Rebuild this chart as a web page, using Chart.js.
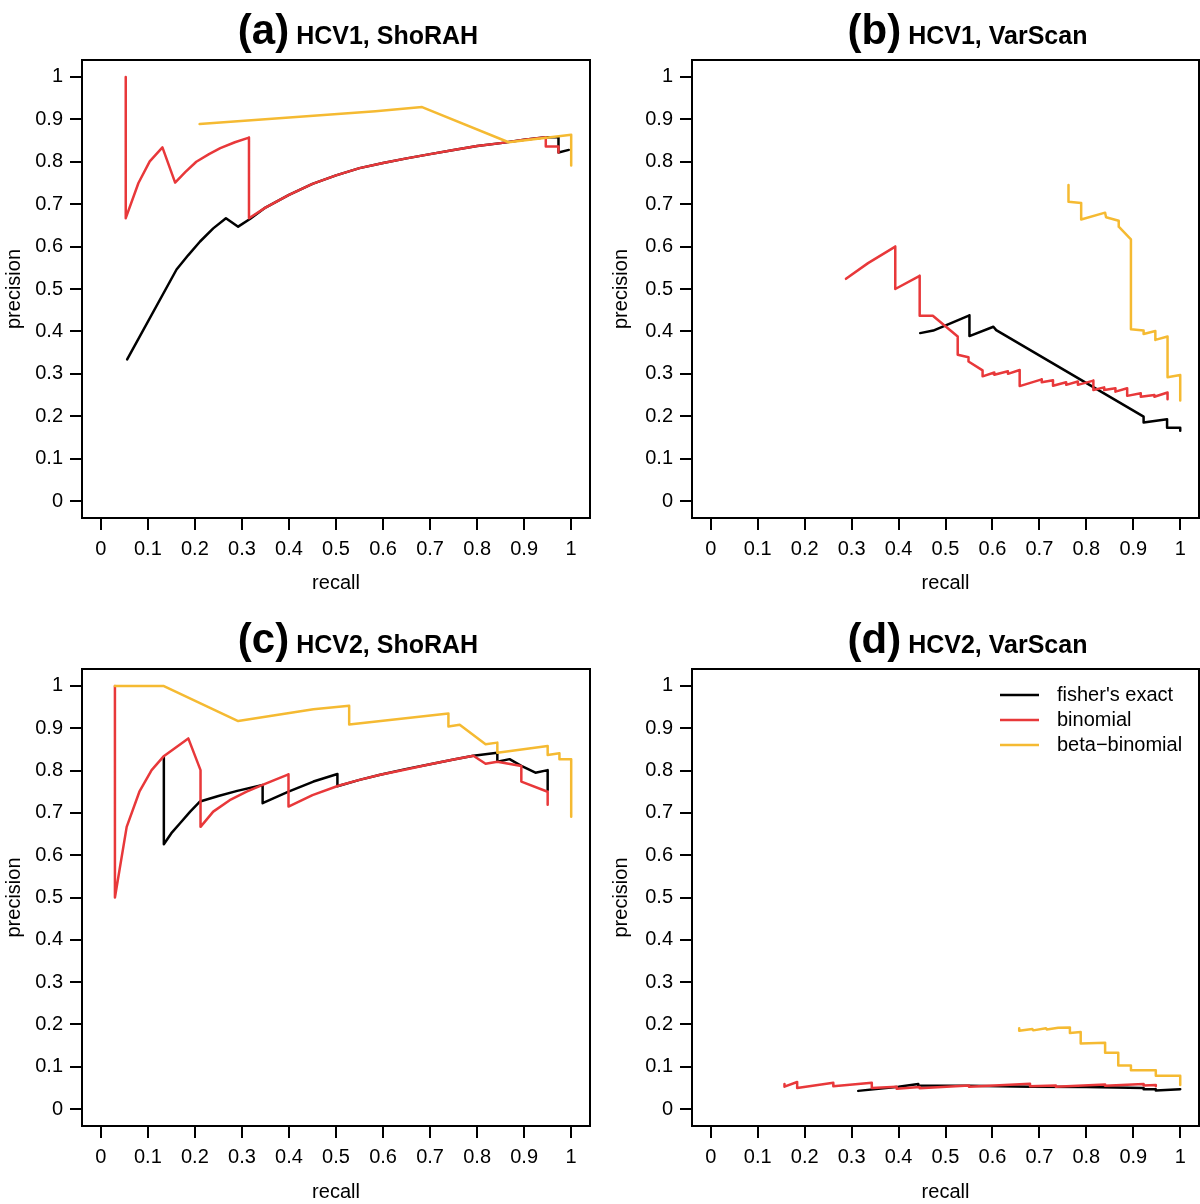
<!DOCTYPE html>
<html>
<head>
<meta charset="utf-8">
<script src="https://cdn.jsdelivr.net/npm/chart.js@4.4.0/dist/chart.umd.min.js"></script>
<style>
  html, body { margin: 0; padding: 0; background: #fff; }
  #wrap { position: relative; width: 1200px; height: 1204px; }
  canvas { position: absolute; }
</style>
</head>
<body>
<div id="wrap">
  <canvas id="pa" width="600" height="602" style="left:0;top:0"></canvas>
  <canvas id="pb" width="600" height="602" style="left:600px;top:0"></canvas>
  <canvas id="pc" width="600" height="602" style="left:0;top:602px"></canvas>
  <canvas id="pd" width="600" height="602" style="left:600px;top:602px"></canvas>
</div>
<script>
// tick values shared by both axes
var tickValues = [0, 0.1, 0.2, 0.3, 0.4, 0.5, 0.6, 0.7, 0.8, 0.9, 1];
var seriesNames = ["fisher's exact", 'binomial', 'beta\u2212binomial'];
var seriesColors = ['#000000', '#E8383A', '#F5BA32'];

// (a) HCV1, ShoRAH  -- [recall, precision]
var hcv1ShorahFisher = [[0.056,0.334],[0.161,0.546],[0.186,0.580],[0.211,0.612],[0.239,0.643],[0.266,0.667],[0.292,0.647],[0.317,0.665],
  [0.35,0.692],[0.4,0.722],[0.45,0.748],[0.5,0.768],[0.55,0.785],[0.6,0.797],[0.65,0.808],[0.7,0.818],[0.75,0.828],[0.8,0.837],
  [0.85,0.844],[0.9,0.852],[0.946,0.858],[0.973,0.858],[0.973,0.822],[0.995,0.828]];
var hcv1ShorahBinom = [[0.053,1.0],[0.053,0.667],[0.08,0.75],[0.104,0.801],[0.131,0.834],[0.158,0.751],[0.18,0.776],[0.203,0.80],
  [0.23,0.818],[0.254,0.832],[0.285,0.846],[0.315,0.857],[0.315,0.667],[0.35,0.692],[0.4,0.722],[0.45,0.748],[0.5,0.768],[0.55,0.785],
  [0.6,0.797],[0.65,0.808],[0.7,0.818],[0.75,0.828],[0.8,0.837],[0.85,0.844],[0.9,0.852],[0.946,0.858],[0.946,0.836],[0.973,0.836],[0.973,0.822]];
var hcv1ShorahBeta = [[0.21,0.889],[0.584,0.919],[0.683,0.929],[0.867,0.846],[1.0,0.864],[1.0,0.791]];

// (b) HCV1, VarScan
var hcv1VarscanFisher = [[0.446,0.396],[0.474,0.402],[0.551,0.438],[0.551,0.389],[0.602,0.411],[0.608,0.403],[0.922,0.199],[0.922,0.185],
  [0.972,0.193],[0.972,0.173],[1.0,0.173],[1.0,0.166]];
var hcv1VarscanBinom = [[0.288,0.524],[0.335,0.561],[0.393,0.600],[0.393,0.500],[0.445,0.531],[0.445,0.437],[0.473,0.437],[0.526,0.388],
  [0.526,0.345],[0.549,0.339],[0.549,0.329],[0.579,0.308],[0.579,0.294],[0.604,0.303],[0.604,0.298],[0.633,0.306],[0.633,0.300],
  [0.658,0.309],[0.658,0.271],[0.705,0.287],[0.705,0.280],[0.729,0.285],[0.729,0.272],[0.757,0.280],[0.757,0.274],[0.782,0.282],
  [0.782,0.274],[0.815,0.284],[0.815,0.262],[0.838,0.268],[0.838,0.262],[0.862,0.266],[0.862,0.258],[0.887,0.266],[0.887,0.248],
  [0.916,0.254],[0.916,0.246],[0.945,0.250],[0.945,0.246],[0.973,0.256],[0.973,0.240]];
var hcv1VarscanBeta = [[0.762,0.745],[0.762,0.706],[0.789,0.703],[0.789,0.664],[0.840,0.680],[0.842,0.669],[0.869,0.661],[0.869,0.647],
  [0.895,0.617],[0.895,0.405],[0.922,0.402],[0.922,0.394],[0.947,0.401],[0.947,0.380],[0.973,0.388],[0.973,0.292],[1.0,0.297],[1.0,0.237]];

// (c) HCV2, ShoRAH
var hcv2ShorahFisher = [[0.134,0.831],[0.134,0.626],[0.15,0.652],[0.168,0.675],[0.19,0.703],[0.211,0.727],[0.25,0.740],[0.29,0.752],
  [0.344,0.766],[0.344,0.723],[0.399,0.750],[0.452,0.774],[0.503,0.792],[0.503,0.763],[0.55,0.778],[0.594,0.790],[0.65,0.804],
  [0.7,0.815],[0.75,0.826],[0.792,0.835],[0.843,0.842],[0.843,0.821],[0.869,0.827],[0.894,0.811],[0.924,0.795],[0.95,0.801],[0.95,0.754]];
var hcv2ShorahBinom = [[0.03,1.0],[0.03,0.5],[0.055,0.667],[0.082,0.750],[0.108,0.801],[0.133,0.833],[0.186,0.876],[0.212,0.801],
  [0.212,0.667],[0.239,0.703],[0.274,0.730],[0.31,0.75],[0.344,0.766],[0.37,0.778],[0.399,0.791],[0.399,0.715],[0.45,0.742],
  [0.505,0.764],[0.55,0.778],[0.594,0.790],[0.646,0.802],[0.7,0.815],[0.75,0.826],[0.792,0.835],[0.818,0.816],[0.843,0.821],
  [0.894,0.811],[0.894,0.774],[0.95,0.750],[0.95,0.719]];
var hcv2ShorahBeta = [[0.03,1.0],[0.133,1.0],[0.292,0.917],[0.452,0.945],[0.528,0.953],[0.528,0.909],[0.739,0.935],[0.739,0.904],
  [0.763,0.908],[0.818,0.862],[0.843,0.866],[0.843,0.842],[0.95,0.858],[0.95,0.837],[0.975,0.841],[0.975,0.827],[1.0,0.827],[1.0,0.691]];

// (d) HCV2, VarScan
var hcv2VarscanFisher = [[0.314,0.043],[0.40,0.053],[0.442,0.059],[0.442,0.056],[0.55,0.055],[0.68,0.053],[0.80,0.052],[0.922,0.050],
  [0.922,0.047],[0.948,0.047],[0.948,0.044],[1.0,0.047]];
var hcv2VarscanBinom = [[0.157,0.059],[0.157,0.053],[0.184,0.064],[0.184,0.050],[0.261,0.062],[0.261,0.054],[0.343,0.062],[0.343,0.050],
  [0.396,0.053],[0.396,0.048],[0.445,0.052],[0.445,0.049],[0.55,0.056],[0.55,0.053],[0.68,0.060],[0.68,0.054],[0.735,0.056],
  [0.735,0.053],[0.84,0.058],[0.84,0.055],[0.922,0.059],[0.922,0.056],[0.948,0.057],[0.948,0.054]];
var hcv2VarscanBeta = [[0.657,0.191],[0.657,0.185],[0.685,0.189],[0.687,0.186],[0.714,0.191],[0.716,0.188],[0.74,0.192],[0.765,0.193],
  [0.765,0.18],[0.788,0.182],[0.788,0.155],[0.840,0.157],[0.840,0.133],[0.868,0.133],[0.868,0.103],[0.895,0.103],[0.895,0.092],
  [0.948,0.092],[0.948,0.079],[1.0,0.079],[1.0,0.057]];

var panels = [
  { id: 'pa', tag: '(a)', name: 'HCV1, ShoRAH', series: [hcv1ShorahFisher, hcv1ShorahBinom, hcv1ShorahBeta],
    top: 60, bottom: 84, left: 82, right: 10, yTitlePad: 2, xTitlePad: 7, legend: false },
  { id: 'pb', tag: '(b)', name: 'HCV1, VarScan', series: [hcv1VarscanFisher, hcv1VarscanBinom, hcv1VarscanBeta],
    top: 60, bottom: 84, left: 92, right: 1, yTitlePad: 9, xTitlePad: 7, legend: false },
  { id: 'pc', tag: '(c)', name: 'HCV2, ShoRAH', series: [hcv2ShorahFisher, hcv2ShorahBinom, hcv2ShorahBeta],
    top: 67, bottom: 78, left: 82, right: 10, yTitlePad: 2, xTitlePad: 0, legend: false },
  { id: 'pd', tag: '(d)', name: 'HCV2, VarScan', series: [hcv2VarscanFisher, hcv2VarscanBinom, hcv2VarscanBeta],
    top: 67, bottom: 78, left: 92, right: 1, yTitlePad: 9, xTitlePad: 0, legend: true }
];

var FONT = "'Liberation Sans', Arial, Helvetica, sans-serif";

// box around the plot region, title, and the legend in panel (d)
var framePlugin = {
  id: 'frame',
  afterDraw: function(chart, args, opts) {
    var ctx = chart.ctx, a = chart.chartArea;
    ctx.save();
    ctx.strokeStyle = '#000';
    ctx.lineWidth = 2;
    ctx.strokeRect(a.left, a.top, a.right - a.left, a.bottom - a.top);

    // title: big bold tag + smaller bold name
    ctx.fillStyle = '#000';
    ctx.textBaseline = 'alphabetic';
    ctx.font = 'bold 42px ' + FONT;
    var w1 = ctx.measureText(opts.tag).width;
    ctx.font = 'bold 25px ' + FONT;
    var w2 = ctx.measureText(opts.name).width;
    var gap = 7;
    var cx = (a.left + a.right) / 2 + 22;
    var x0 = cx - (w1 + gap + w2) / 2;
    var by = a.top - 16;
    ctx.font = 'bold 42px ' + FONT;
    ctx.fillText(opts.tag, x0, by);
    ctx.font = 'bold 25px ' + FONT;
    ctx.fillText(opts.name, x0 + w1 + gap, by);

    if (opts.legend) {
      ctx.font = '20px ' + FONT;
      ctx.textBaseline = 'middle';
      chart.data.datasets.forEach(function(ds, i) {
        var y = a.top + 26 + i * 25;
        ctx.strokeStyle = ds.borderColor;
        ctx.lineWidth = 2.5;
        ctx.beginPath();
        ctx.moveTo(a.right - 199, y);
        ctx.lineTo(a.right - 160, y);
        ctx.stroke();
        ctx.fillStyle = '#000';
        ctx.fillText(ds.label, a.right - 142, y);
      });
    }
    ctx.restore();
  }
};

function makeTicks(scale) {
  scale.ticks = tickValues.map(function(v) { return { value: v }; });
}

panels.forEach(function(p) {
  var datasets = p.series.map(function(s, i) {
    return {
      label: seriesNames[i],
      data: s.map(function(pt) { return { x: pt[0], y: pt[1] }; }),
      borderColor: seriesColors[i],
      borderWidth: 2.5,
      borderJoinStyle: 'round',
      borderCapStyle: 'round',
      pointRadius: 0,
      tension: 0,
      fill: false,
      order: 3 - i
    };
  });

  new Chart(document.getElementById(p.id), {
    type: 'line',
    data: { datasets: datasets },
    plugins: [framePlugin],
    options: {
      responsive: false,
      animation: false,
      devicePixelRatio: 1,
      events: [],
      layout: { padding: { top: p.top, right: p.right, bottom: 0, left: 0 } },
      plugins: {
        legend: { display: false },
        tooltip: { enabled: false },
        frame: { tag: p.tag, name: p.name, legend: p.legend }
      },
      scales: {
        x: {
          type: 'linear',
          min: -0.04,
          max: 1.04,
          afterBuildTicks: makeTicks,
          afterFit: function(s) { s.height = p.bottom; },
          border: { display: false },
          grid: { drawOnChartArea: false, drawTicks: true, tickLength: 12, color: '#000', lineWidth: 2 },
          ticks: {
            color: '#000', padding: 7, maxRotation: 0, autoSkip: false,
            font: { family: FONT, size: 20 },
            callback: function(v) { return String(Math.round(v * 10) / 10); }
          },
          title: { display: true, text: 'recall', color: '#000', font: { family: FONT, size: 20 },
                   padding: { top: 0, bottom: p.xTitlePad } }
        },
        y: {
          type: 'linear',
          min: -0.04,
          max: 1.04,
          afterBuildTicks: makeTicks,
          afterFit: function(s) { s.width = p.left; },
          border: { display: false },
          grid: { drawOnChartArea: false, drawTicks: true, tickLength: 12, color: '#000', lineWidth: 2 },
          ticks: {
            color: '#000', padding: 7, autoSkip: false,
            font: { family: FONT, size: 20 },
            callback: function(v) { return String(Math.round(v * 10) / 10); }
          },
          title: { display: true, text: 'precision', color: '#000', font: { family: FONT, size: 20 },
                   padding: { top: p.yTitlePad, bottom: 0 } }
        }
      }
    }
  });
});
</script>
</body>
</html>
